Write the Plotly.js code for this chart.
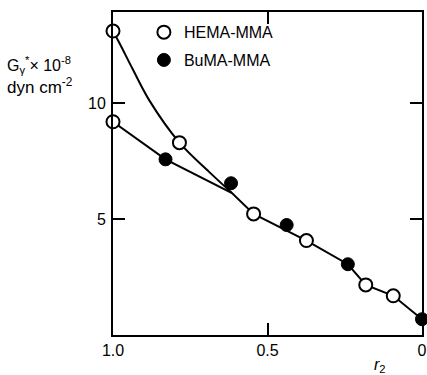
<!DOCTYPE html>
<html>
<head>
<meta charset="utf-8">
<script src="https://cdn.plot.ly/plotly-3.0.1.min.js"></script>
<style>
  html, body { margin: 0; padding: 0; background: #fff; }
  #chart { width: 427px; height: 375px; }
</style>
</head>
<body>
<div id="chart"></div>
<script>
// Measured points: modulus vs. r2 for the two copolymer series
const hemaR2 = [1.0, 1.0, 0.785, 0.545, 0.374, 0.182, 0.093];
const hemaG  = [13.1, 9.19, 8.29, 5.22, 4.07, 2.16, 1.69];
const bumaR2 = [0.83, 0.618, 0.438, 0.240, 0.0];
const bumaG  = [7.57, 6.54, 4.74, 3.05, 0.68];

// Hand-drawn guide curves
const upperCurveR2 = [1.0, 0.978, 0.936, 0.882, 0.785, 0.689, 0.615];
const upperCurveG  = [13.1, 12.55, 11.45, 10.1, 8.29, 7.03, 6.12];
const lowerCurveR2 = [1.0, 0.83, 0.615, 0.545, 0.374, 0.240, 0.182, 0.093, 0.0];
const lowerCurveG  = [9.19, 7.57, 6.12, 5.22, 4.07, 3.05, 2.16, 1.69, 0.68];

// Axis ticks
const xTickVals = [1.0, 0.5, 0];
const xTickText = ['1.0', '0.5', '0'];
const yTickVals = [5, 10];
const yTickText = ['5', '10'];

const FONT = 'Liberation Sans, Arial, sans-serif';
const lineStyle = { color: '#000', width: 2 };

const traces = [
  { x: upperCurveR2, y: upperCurveG, mode: 'lines', line: Object.assign({ shape: 'spline', smoothing: 1 }, lineStyle), showlegend: false, hoverinfo: 'skip' },
  { x: lowerCurveR2, y: lowerCurveG, mode: 'lines', line: lineStyle, showlegend: false, hoverinfo: 'skip' },
  {
    x: hemaR2, y: hemaG, mode: 'markers', name: 'HEMA-MMA', cliponaxis: false, legendgroup: 'a',
    marker: { symbol: 'circle', size: 13, color: '#fff', line: { color: '#000', width: 2 } }
  },
  {
    x: bumaR2, y: bumaG, mode: 'markers', name: 'BuMA-MMA', cliponaxis: false, legendgroup: 'b',
    marker: { symbol: 'circle', size: 13, color: '#000', line: { color: '#000', width: 1 } }
  }
];

const axisCommon = {
  showline: true, linecolor: '#000', linewidth: 2, mirror: 'ticks',
  ticks: 'inside', ticklen: 12, tickwidth: 2, tickcolor: '#000',
  showgrid: false, zeroline: false, ticklabeloverflow: 'allow',
  tickfont: { family: FONT, size: 16, color: '#000' }
};

const layout = {
  width: 427, height: 375,
  margin: { l: 113, r: 5, t: 12, b: 40 },
  paper_bgcolor: '#fff', plot_bgcolor: '#fff',
  font: { family: FONT, color: '#000' },
  xaxis: Object.assign({}, axisCommon, {
    range: [1.0, 0.0], tickvals: xTickVals, ticktext: xTickText
  }),
  yaxis: Object.assign({}, axisCommon, {
    range: [0, 13.92], tickvals: yTickVals, ticktext: yTickText, ticklabelstandoff: 2
  }),
  showlegend: true,
  legend: {
    x: 0.1, y: 0.99, xanchor: 'left', yanchor: 'top',
    bgcolor: 'rgba(0,0,0,0)', font: { family: FONT, size: 16, color: '#000' },
    itemwidth: 30, tracegroupgap: 4
  },
  annotations: [
    {
      xref: 'paper', yref: 'paper', x: -0.35, y: 0.836, xanchor: 'left', yanchor: 'middle',
      text: 'G<sub>γ</sub><sup>*</sup>× 10<sup>-8</sup>', showarrow: false,
      font: { family: FONT, size: 16, color: '#000' }
    },
    {
      xref: 'paper', yref: 'paper', x: -0.35, y: 0.771, xanchor: 'left', yanchor: 'middle',
      text: 'dyn cm<sup>-2</sup>', showarrow: false,
      font: { family: FONT, size: 17, color: '#000' }
    },
    {
      xref: 'paper', yref: 'paper', x: 0.865, y: -0.093, xanchor: 'center', yanchor: 'middle',
      text: '<i>r</i><sub>2</sub>', showarrow: false,
      font: { family: FONT, size: 16, color: '#000' }
    }
  ]
};

Plotly.newPlot('chart', traces, layout, { staticPlot: true, displayModeBar: false });
</script>
</body>
</html>
